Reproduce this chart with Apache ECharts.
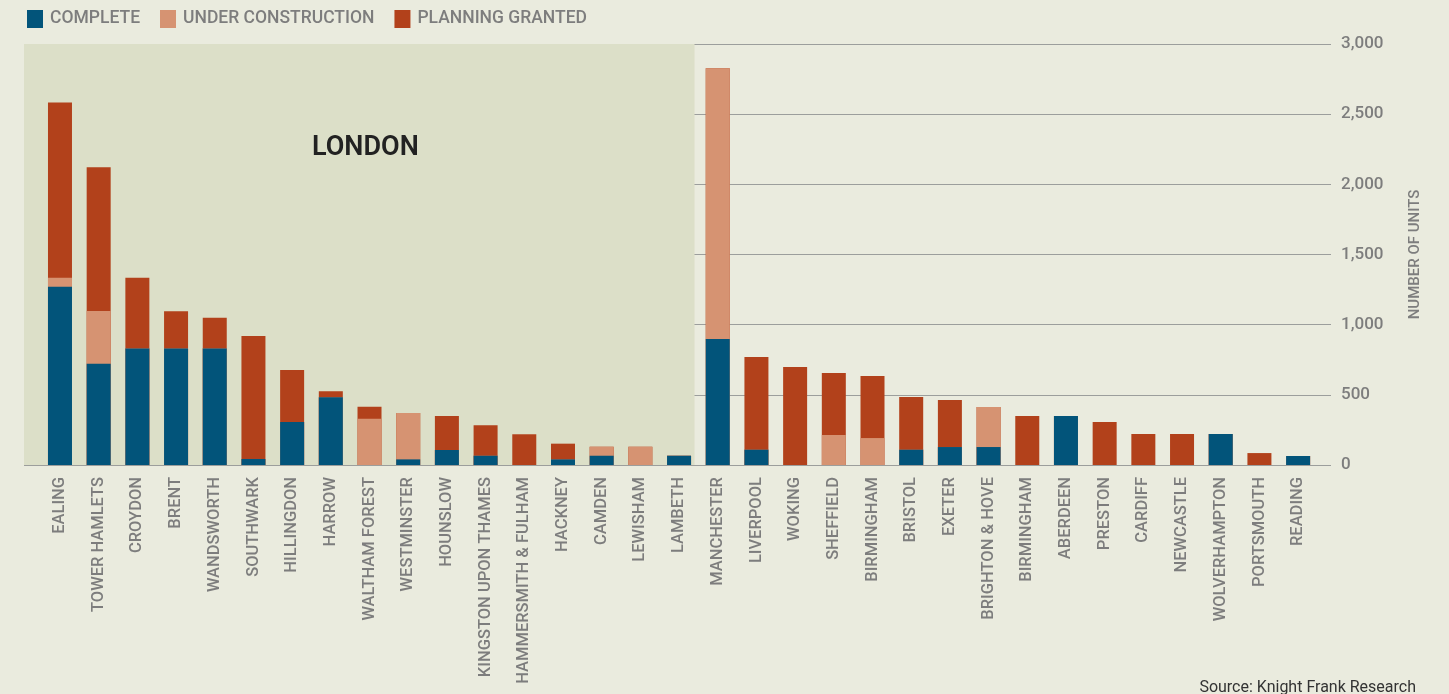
<!DOCTYPE html>
<html>
<head>
<meta charset="utf-8">
<script src="https://cdn.jsdelivr.net/npm/echarts@6/dist/echarts.min.js"></script>
<style>
html,body{margin:0;padding:0;background:#EAEBDE;}
#chart{width:1449px;height:694px;}
</style>
</head>
<body>
<div id="chart"></div>
<script>
const categories = ['EALING','TOWER HAMLETS','CROYDON','BRENT','WANDSWORTH','SOUTHWARK','HILLINGDON','HARROW','WALTHAM FOREST','WESTMINSTER','HOUNSLOW','KINGSTON UPON THAMES','HAMMERSMITH & FULHAM','HACKNEY','CAMDEN','LEWISHAM','LAMBETH','MANCHESTER','LIVERPOOL','WOKING','SHEFFIELD','BIRMINGHAM','BRISTOL','EXETER','BRIGHTON & HOVE','BIRMINGHAM','ABERDEEN','PRESTON','CARDIFF','NEWCASTLE','WOLVERHAMPTON','PORTSMOUTH','READING'];
const londonCount = 17;
const complete          = [1270,722,831,831,831,43,306,482,0,40,107,66,0,40,66,0,66, 897,109,0,0,0,109,128,128,0,349,0,0,0,221,0,64];
const underConstruction = [64,375,0,0,0,0,0,0,330,330,0,0,0,0,64,130,0, 1931,0,0,214,192,0,0,285,0,0,0,0,0,0,0,0];
const planningGranted   = [1249,1025,503,264,218,876,371,43,85,0,242,217,219,112,0,0,0, 0,660,698,441,442,375,335,0,349,0,306,221,221,0,85,0];
const yTicks = [0,500,1000,1500,2000,2500,3000];

const COL_C = '#02547A', COL_UC = '#D69372', COL_PG = '#B2411B';
const xMin = -0.93, xMax = 32.85;

const cumC  = complete.map((v,i)=>[i, v]);
const cumUC = complete.map((v,i)=>[i, v + underConstruction[i]]);
const cumPG = complete.map((v,i)=>[i, v + underConstruction[i] + planningGranted[i]]);

const chart = echarts.init(document.getElementById('chart'), null, {renderer:'canvas'});
const FONT = 'Roboto';
const GRAY = '#7d7d7d';
chart.setOption({
  backgroundColor: '#EAEBDE',
  animation: false,
  textStyle: {fontFamily: FONT},
  title: [
    {text: 'LONDON', left: 307, top: 130, textStyle: {fontFamily: FONT, fontSize: 27, fontWeight: 600, color: '#222222'}},
    {text: 'Source: Knight Frank Research', right: 28, top: 675, textStyle: {fontFamily: FONT, fontSize: 16, fontWeight: 400, color: '#333333'}}
  ],
  legend: {
    left: 22, top: 5,
    data: ['COMPLETE','UNDER CONSTRUCTION','PLANNING GRANTED'],
    icon: 'rect', itemWidth: 16, itemHeight: 18, itemGap: 20,
    textStyle: {fontFamily: FONT, fontSize: 17.5, fontWeight: 500, color: GRAY, padding: [0,0,0,2]},
    selectedMode: false
  },
  grid: {left: 24, right: 118, top: 44, bottom: 229, containLabel: false},
  xAxis: {
    type: 'value', min: xMin, max: xMax,
    axisLine: {show: false}, axisTick: {show: false}, splitLine: {show: false},
    axisLabel: {
      customValues: categories.map((c,i)=>i),
      formatter: v => categories[Math.round(v)] || '',
      rotate: 90, margin: 12, fontFamily: FONT, fontSize: 16.5, fontWeight: 500, color: GRAY,
      showMinLabel: true, showMaxLabel: true
    }
  },
  yAxis: {
    type: 'value', position: 'right', min: 0, max: 3000, interval: 500,
    name: 'NUMBER OF UNITS', nameLocation: 'middle', nameRotate: 90, nameGap: 77,
    nameTextStyle: {fontFamily: FONT, fontSize: 15, fontWeight: 500, color: GRAY},
    axisLine: {show: false}, axisTick: {show: false},
    splitLine: {show: true, lineStyle: {color: '#9C9E9C', width: 1.2}},
    axisLabel: {margin: 10, fontFamily: FONT, fontSize: 17, fontWeight: 500, color: GRAY,
      formatter: v => v.toLocaleString('en-US')}
  },
  series: [
    {name: 'PLANNING GRANTED', type: 'bar', data: cumPG, barWidth: 24, barGap: '-100%',
      itemStyle: {color: COL_PG}, z: 2,
      markArea: {silent: true, itemStyle: {color: '#DCDFC8'}, z: 0,
        data: [[{coord: [xMin, yTicks[yTicks.length-1]]}, {coord: [londonCount - 0.6, 0]}]]}},
    {name: 'UNDER CONSTRUCTION', type: 'bar', data: cumUC, barWidth: 24, barGap: '-100%',
      itemStyle: {color: COL_UC}, z: 3},
    {name: 'COMPLETE', type: 'bar', data: cumC, barWidth: 24, barGap: '-100%',
      itemStyle: {color: COL_C}, z: 4}
  ]
});
</script>
</body>
</html>
